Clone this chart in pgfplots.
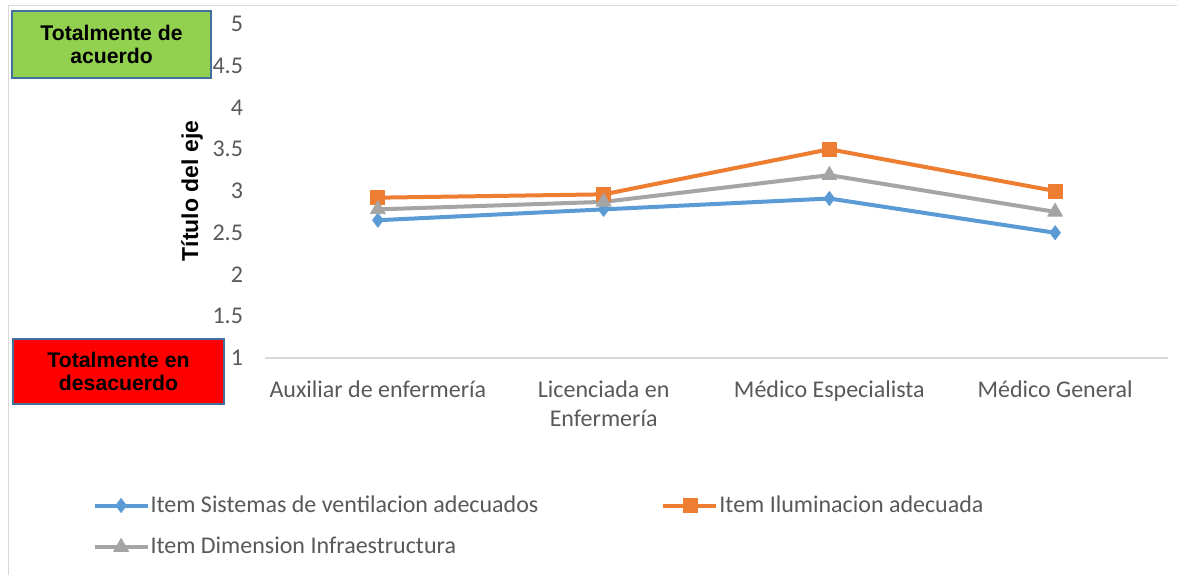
\documentclass[border=0pt]{standalone}
\usepackage{fontspec}
\setmainfont{Carlito}
\newfontfamily\boldsans{Liberation Sans}
\usepackage{pgfplots}
\pgfplotsset{compat=1.18}

\definecolor{serieA}{HTML}{5B9BD5}
\definecolor{serieB}{HTML}{ED7D31}
\definecolor{serieC}{HTML}{A5A5A5}
\definecolor{txtgray}{HTML}{595959}
\definecolor{axgray}{HTML}{D9D9D9}
\definecolor{verde}{HTML}{92D050}
\definecolor{rojo}{HTML}{FF0000}
\definecolor{borde}{HTML}{41719C}

\begin{document}
\begin{tikzpicture}
\useasboundingbox (0,0) rectangle (588.5pt,287.5pt);
\fill[white] (0,0) rectangle (588.5pt,287.5pt);
% chart area frame
\draw[axgray, line width=0.5pt] (4pt,0) -- (4pt,285pt) -- (588.5pt,285pt);

\begin{axis}[
  at={(132.5pt,108.5pt)}, anchor=south west,
  scale only axis, width=451.5pt, height=167pt,
  xmin=-0.5, xmax=3.5, ymin=1, ymax=5,
  axis x line*=bottom, axis y line*=left,
  x axis line style={draw=axgray, line width=0.75pt},
  y axis line style={draw=none},
  major tick length=0pt,
  xtick={0,1,2,3},
  xticklabels={Auxiliar de enfermería, {Licenciada en\\Enfermería}, Médico Especialista, Médico General},
  ytick={1,1.5,2,2.5,3,3.5,4,4.5,5},
  /pgf/number format/assume math mode=true,
  ticklabel style={font=\fontsize{12}{14.5}\selectfont, text=txtgray},
  xticklabel style={align=center, yshift=-8pt},
  yticklabel style={xshift=-7.5pt},
  ylabel={Título del eje},
  ylabel style={font=\boldsans\bfseries\fontsize{11.5}{13}\selectfont, at={(axis description cs:-0.0808,0.5)}, anchor=center},
  legend columns=2,
  legend cell align=left,
  legend style={draw=none, fill=none, at={(axis description cs:-0.198,-0.396)}, anchor=north west,
    font=\fontsize{12}{14.5}\selectfont, text=txtgray,
    nodes={inner sep=0.5pt}, row sep=10pt,
    /tikz/every even column/.append style={column sep=61pt}},
  legend image code/.code={
    \draw[#1, mark repeat=2, mark phase=2] plot coordinates {(0pt,0pt) (13.25pt,0pt) (26.5pt,0pt)};
  },
  every axis plot/.append style={line width=2pt, line join=round},
]
\addplot[color=serieA, mark=diamond*, mark size=3.5pt, mark options={solid, line width=0.4pt, fill=serieA}]
  coordinates {(0,2.65) (1,2.78) (2,2.91) (3,2.50)};
\addlegendentry{Item Sistemas de ventilacion adecuados}
\addplot[color=serieB, mark=square*, mark size=3.5pt, mark options={solid, line width=0.4pt, fill=serieB}]
  coordinates {(0,2.92) (1,2.96) (2,3.50) (3,3.00)};
\addlegendentry{Item Iluminacion adecuada}
\addplot[color=serieC, mark=triangle*, mark size=4.3pt, mark options={solid, line width=0.4pt, fill=serieC}]
  coordinates {(0,2.78) (1,2.87) (2,3.19) (3,2.75)};
\addlegendentry{Item Dimension Infraestructura}
\end{axis}

% scale end labels
\node[draw=borde, line width=1pt, fill=verde, minimum width=99.5pt, minimum height=33.5pt, inner sep=0pt,
  align=center, font=\boldsans\bfseries\fontsize{10.6}{11.65}\selectfont] at (55.75pt,265.25pt) {Totalmente de\\acuerdo};
\node[draw=borde, line width=1pt, fill=rojo, minimum width=105.5pt, minimum height=32.5pt, inner sep=0pt,
  align=center, font=\boldsans\bfseries\fontsize{10.6}{11.65}\selectfont] at (59.25pt,101.75pt) {Totalmente en\\desacuerdo};
\end{tikzpicture}
\end{document}
